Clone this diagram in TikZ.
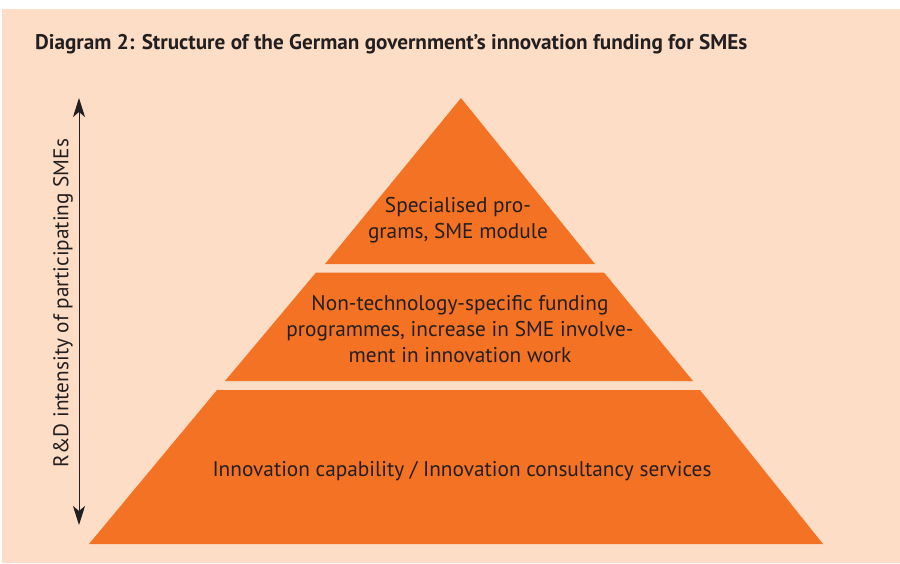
\documentclass[tikz,border=0pt]{standalone}
\usepackage{fontspec}
\setmainfont{PT Sans}
\usetikzlibrary{arrows.meta}
\definecolor{peach}{RGB}{253,221,198}
\definecolor{bandorange}{RGB}{244,114,36}
\definecolor{inkgrey}{RGB}{35,31,32}
\tikzset{
  band/.style={fill=bandorange, draw=none},
  bandtext/.style={font=\fontsize{21.3}{25.7}\selectfont, text=inkgrey, align=center, inner sep=0pt},
  axisarrow/.style={draw=inkgrey, line width=1pt,
    {Stealth[length=19pt,width=12pt,inset=5pt]}-{Stealth[length=19pt,width=12pt,inset=5pt]}}
}
\begin{document}
\begin{tikzpicture}[x=1pt,y=-1pt]
\useasboundingbox (0,0) rectangle (900,563);
\fill[white] (0,0) rectangle (900,563);
\fill[peach] (2,9) rectangle (900,563);

\node[anchor=base west, font=\fontsize{21.2}{24}\selectfont\bfseries, text=inkgrey, inner sep=0pt]
  (title) at (35,49) {Diagram 2: Structure of the German government's innovation funding for SMEs};

\fill[band] (461,98) -- (595,264) -- (325,264) -- cycle;
\fill[band] (316,272.5) -- (604,272.5) -- (693,381) -- (225,381) -- cycle;
\fill[band] (217,390) -- (700,390) -- (823,544) -- (89,544) -- cycle;

\node[bandtext] (top) at (458,220) {Specialised pro-\\grams, SME module};
\node[bandtext] (middle) at (460,329) {Non-technology-specific funding\\programmes, increase in SME involve-\\ment in innovation work};
\node[bandtext] (bottom) at (462,471) {Innovation capability / Innovation consultancy services};

\coordinate (high) at (79,98);
\coordinate (low) at (79,525);
\draw[axisarrow] (low) -- (high);
\node[bandtext, rotate=90] (axislabel) at (63,303) {R\&D intensity of participating SMEs};
\end{tikzpicture}
\end{document}
